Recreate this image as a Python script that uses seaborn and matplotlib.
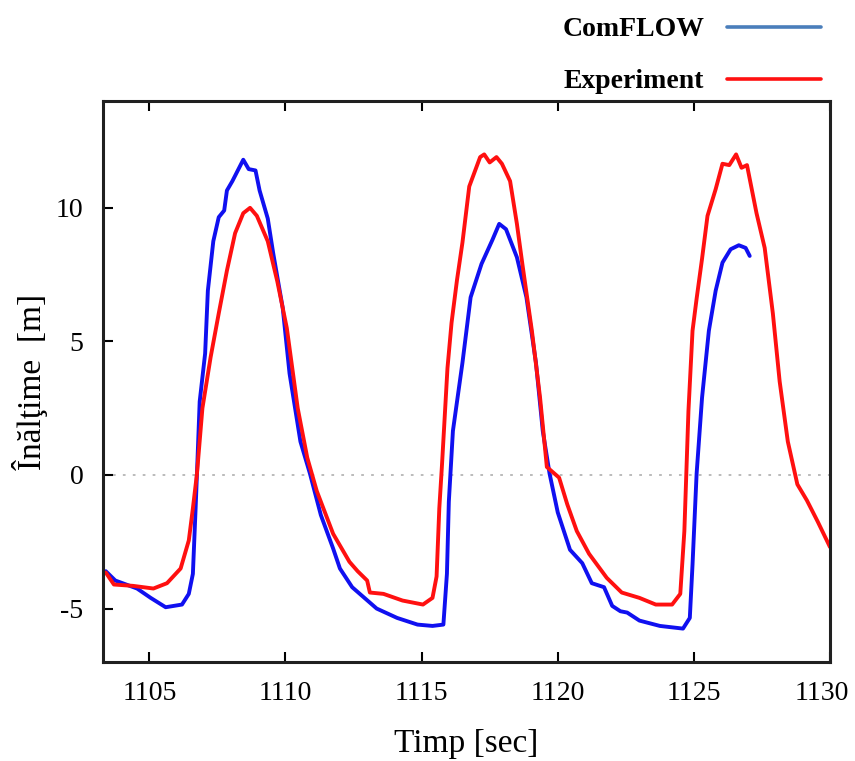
"""Wave height: ComFLOW vs experiment"""

import pandas as pd
import matplotlib
matplotlib.use("Agg")
import matplotlib.pyplot as plt
import matplotlib.transforms as mtransforms
import seaborn as sns

#####################################################################
# data

comflow_t = [1103.4, 1103.75, 1104.55, 1105.05, 1105.6, 1106.2, 1106.45, 1106.6, 1106.7, 1106.75,
             1106.85, 1107.05, 1107.15, 1107.35, 1107.55, 1107.75, 1107.85, 1108.05, 1108.25, 1108.45,
             1108.65, 1108.9, 1109.05, 1109.35, 1109.55, 1109.9, 1110.15, 1110.55, 1110.9, 1111.3,
             1111.75, 1112.0, 1112.45, 1113.35, 1114.1, 1114.85, 1115.4, 1115.8, 1115.93, 1116.0,
             1116.15, 1116.5, 1116.8, 1117.2, 1117.6, 1117.85, 1118.1, 1118.5, 1118.85, 1119.2,
             1119.45, 1119.7, 1120.0, 1120.45, 1120.9, 1121.25, 1121.7, 1122.0, 1122.3, 1122.55,
             1123.0, 1123.75, 1124.6, 1124.85, 1124.95, 1125.1, 1125.3, 1125.55, 1125.8, 1126.05,
             1126.35, 1126.65, 1126.9, 1127.05]
comflow_h = [-3.6, -3.95, -4.25, -4.6, -4.95, -4.85, -4.45, -3.7, -1.25, 0.05,
             2.75, 4.55, 6.9, 8.75, 9.65, 9.9, 10.65, 11.0, 11.4, 11.8,
             11.45, 11.4, 10.65, 9.6, 8.3, 6.25, 3.8, 1.25, 0.05, -1.5,
             -2.75, -3.5, -4.2, -5.0, -5.35, -5.6, -5.65, -5.6, -3.7, -1.0,
             1.65, 4.2, 6.65, 7.9, 8.8, 9.4, 9.2, 8.15, 6.65, 4.2,
             1.65, 0.05, -1.4, -2.8, -3.3, -4.05, -4.2, -4.9, -5.1, -5.15,
             -5.45, -5.65, -5.75, -5.35, -3.35, 0.05, 2.9, 5.4, 6.9, 7.95,
             8.45, 8.6, 8.5, 8.2]

exp_t = [1103.4, 1103.7, 1104.4, 1105.15, 1105.65, 1106.15, 1106.45, 1106.6, 1106.75, 1106.95,
         1107.25, 1107.55, 1107.85, 1108.15, 1108.45, 1108.7, 1108.95, 1109.35, 1109.7, 1110.05,
         1110.45, 1110.8, 1111.15, 1111.75, 1112.35, 1112.65, 1113.0, 1113.1, 1113.6, 1114.3,
         1115.05, 1115.4, 1115.55, 1115.65, 1115.75, 1115.95, 1116.1, 1116.3, 1116.5, 1116.75,
         1117.15, 1117.3, 1117.5, 1117.75, 1117.95, 1118.25, 1118.5, 1118.7, 1119.05, 1119.35,
         1119.6, 1120.05, 1120.35, 1120.7, 1121.15, 1121.8, 1122.35, 1123.0, 1123.6, 1124.2,
         1124.5, 1124.65, 1124.8, 1124.95, 1125.1, 1125.3, 1125.5, 1125.8, 1126.05, 1126.3,
         1126.55, 1126.75, 1126.95, 1127.3, 1127.6, 1127.9, 1128.15, 1128.45, 1128.8, 1129.15,
         1129.55, 1130.0]
exp_h = [-3.65, -4.1, -4.15, -4.25, -4.05, -3.5, -2.45, -1.25, 0.05, 2.5,
         4.4, 6.05, 7.65, 9.05, 9.8, 10.0, 9.7, 8.75, 7.25, 5.5,
         2.5, 0.65, -0.6, -2.2, -3.25, -3.6, -3.95, -4.4, -4.45, -4.7,
         -4.85, -4.6, -3.8, -1.25, 0.4, 4.0, 5.7, 7.3, 8.7, 10.8,
         11.9, 12.0, 11.7, 11.9, 11.65, 11.0, 9.4, 7.9, 5.4, 2.9,
         0.3, -0.1, -1.1, -2.1, -2.95, -3.85, -4.4, -4.6, -4.85, -4.85,
         -4.45, -2.1, 2.4, 5.4, 6.6, 8.1, 9.7, 10.7, 11.65, 11.6,
         12.0, 11.5, 11.6, 9.8, 8.5, 6.05, 3.5, 1.25, -0.35, -0.95,
         -1.75, -2.7]

x_ticks = [1105, 1110, 1115, 1120, 1125, 1130]
y_ticks = [-5, 0, 5, 10]

#####################################################################
# df preparation
df = pd.concat([
    pd.DataFrame({'t': comflow_t, 'h': comflow_h, 'series': 'ComFLOW'}),
    pd.DataFrame({'t': exp_t, 'h': exp_h, 'series': 'Experiment'}),
], ignore_index=True)

#####################################################################
# plotting
sns.set_style("white")
plt.rcParams['font.family'] = ['Liberation Serif', 'DejaVu Serif']
plt.rcParams['axes.unicode_minus'] = False
plt.rcParams['text.color'] = 'black'
plt.rcParams['axes.labelcolor'] = 'black'

fig = plt.figure(figsize=(8.55, 7.61), dpi=100)
ax = fig.add_axes([0.1205, 0.1301, 0.8503, 0.7372])

ax.axhline(0, color='#b5b5b5', lw=1.3, ls=(0, (1.5, 4)), zorder=0)

sns.lineplot(data=df, x='t', y='h', hue='series', palette={'ComFLOW': '#1010f0', 'Experiment': '#ff1010'},
             sort=False, estimator=None, linewidth=2.8, ax=ax)

ax.set_xlim(1103.3, 1130)
ax.set_ylim(-7, 14)
ax.set_xticks(x_ticks)
ax.set_yticks(y_ticks)
ax.tick_params(axis='both', direction='in', length=7, width=1.5, labelsize=20, pad=14, colors='black')
ax.tick_params(axis='x', top=True, bottom=True)
ax.tick_params(axis='y', left=True, right=False)
for sp in ax.spines.values():
    sp.set_linewidth(2.2)
    sp.set_color('#202020')

# last x label sits a bit left of its tick, keep it inside the figure
last_lbl = ax.get_xticklabels()[-1]
last_lbl.set_transform(last_lbl.get_transform() + mtransforms.ScaledTranslation(-0.08, 0, fig.dpi_scale_trans))

ax.set_xlabel('Timp [sec]', fontsize=24, labelpad=16)
ax.set_ylabel('Înălţime  [m]', fontsize=24, labelpad=6)

leg = ax.legend(loc='upper right', bbox_to_anchor=(821 / 855, 1 - 17 / 761), bbox_transform=fig.transFigure,
                frameon=False, markerfirst=False, handlelength=3.4, handletextpad=0.8, labelspacing=0.95,
                borderpad=0, borderaxespad=0, prop={'weight': 'bold', 'size': 20})
leg.get_lines()[0].set_color('#4a7ebb')
for ln in leg.get_lines():
    ln.set_linewidth(2.6)

plt.savefig("out.png", dpi=100)
